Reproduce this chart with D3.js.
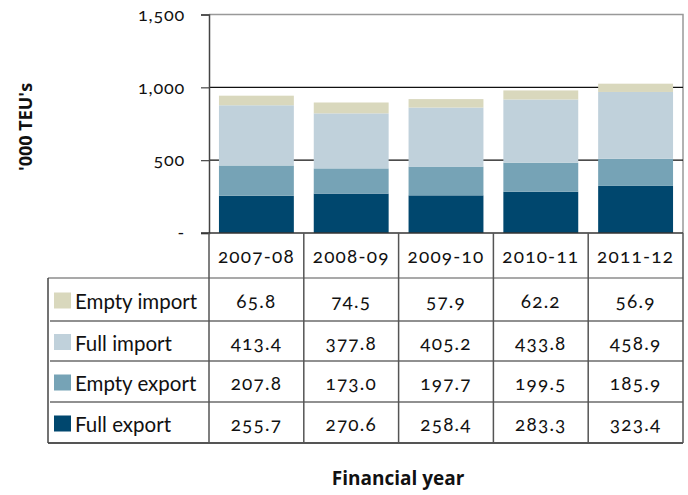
<!DOCTYPE html>
<html>
<head>
<meta charset="utf-8">
<script src="https://cdn.jsdelivr.net/npm/d3@7"></script>
<style>
  body { margin: 0; background: #fff; }
  .num { font-feature-settings: "onum" 1; font-variant-numeric: oldstyle-nums; }
</style>
</head>
<body>
<div id="chart"></div>
<script>
// datos
const years = ["2007-08", "2008-09", "2009-10", "2010-11", "2011-12"];
const series = ["Full export", "Empty export", "Full import", "Empty import"];
const fullExport = [255.7, 270.6, 258.4, 283.3, 323.4];
const emptyExport = [207.8, 173.0, 197.7, 199.5, 185.9];
const fullImport = [413.4, 377.8, 405.2, 433.8, 458.9];
const emptyImport = [65.8, 74.5, 57.9, 62.2, 56.9];
const yTicks = [0, 500, 1000, 1500];
const colors = ["#00476e", "#76a3b6", "#c0d1db", "#d9d8bd"];

const width = 688, height = 495;
const plotLeft = 209, plotRight = 683, plotTop = 14.5, plotBottom = 233;

const svg = d3.select("#chart").append("svg")
  .attr("width", width)
  .attr("height", height)
  .attr("font-family", "Lato, 'Open Sans', sans-serif");

const x = d3.scaleBand().domain(years).range([plotLeft, plotRight]).paddingInner(0.21).paddingOuter(0.105);
const xCol = d3.scaleBand().domain(years).range([plotLeft, plotRight]);
const y = d3.scaleLinear().domain([0, 1500]).range([plotBottom, plotTop]);

const rows = years.map((yr, i) => ({
  year: yr,
  "Full export": fullExport[i],
  "Empty export": emptyExport[i],
  "Full import": fullImport[i],
  "Empty import": emptyImport[i]
}));
const stacked = d3.stack().keys(series)(rows);

// marco gris
svg.append("path")
  .attr("d", `M${plotLeft},${plotTop}H${plotRight}V${plotBottom}`)
  .attr("fill", "none").attr("stroke", "#999").attr("stroke-width", 1.5);

// grid
svg.selectAll(".grid").data([500, 1000]).join("line")
  .attr("x1", plotLeft).attr("x2", plotRight)
  .attr("y1", d => y(d)).attr("y2", d => y(d))
  .attr("stroke", "#111").attr("stroke-width", 1.2);

// barras
svg.append("g").selectAll("g").data(stacked).join("g")
  .attr("fill", (d, i) => colors[i])
  .selectAll("rect").data(d => d).join("rect")
  .attr("x", d => x(d.data.year))
  .attr("width", x.bandwidth())
  .attr("y", d => y(d[1]))
  .attr("height", d => y(d[0]) - y(d[1]));

// eje y
const yAxis = svg.append("g")
  .attr("transform", `translate(${plotLeft},0)`)
  .call(d3.axisLeft(y).tickValues(yTicks).tickSize(8).tickPadding(16)
    .tickFormat(d => d === 0 ? "-" : d3.format(",")(d)));
yAxis.attr("font-family", null);
yAxis.select(".domain").attr("stroke", "#444").attr("stroke-width", 1.5);
yAxis.selectAll(".tick line").attr("stroke", "#444").attr("stroke-width", 1.2);
yAxis.selectAll(".tick text").attr("class", "num").attr("font-size", 18).attr("fill", "#111")
  .style("letter-spacing", "0.8px");

// eje x base
svg.append("line").attr("x1", plotLeft - 8).attr("x2", plotRight)
  .attr("y1", plotBottom).attr("y2", plotBottom).attr("stroke", "#333").attr("stroke-width", 1.5);

// tabla
const tableLeft = 48;
const rowEdges = [233, 278, 321, 361, 402, 443];
const tableRows = [
  { name: "Empty import", vals: emptyImport, color: colors[3] },
  { name: "Full import", vals: fullImport, color: colors[2] },
  { name: "Empty export", vals: emptyExport, color: colors[1] },
  { name: "Full export", vals: fullExport, color: colors[0] }
];
const tbl = svg.append("g");

// lineas horizontales
tbl.selectAll(".h").data(rowEdges.slice(1)).join("line")
  .attr("x1", (d, i) => i === 0 || i === rowEdges.length - 2 ? tableLeft : tableLeft + 2)
  .attr("x2", plotRight)
  .attr("y1", d => d).attr("y2", d => d)
  .attr("stroke", (d, i) => i === 0 || i === rowEdges.length - 2 ? "#555" : "#222")
  .attr("stroke-width", (d, i) => i === rowEdges.length - 2 ? 1.8 : 1.2);

// lineas verticales
const vx = years.map(yr => xCol(yr)).concat([plotRight]);
tbl.selectAll(".v").data(vx).join("line")
  .attr("x1", d => d).attr("x2", d => d)
  .attr("y1", plotBottom).attr("y2", rowEdges[5])
  .attr("stroke", "#555").attr("stroke-width", 1.5);
tbl.append("line").attr("x1", tableLeft).attr("x2", tableLeft)
  .attr("y1", rowEdges[1]).attr("y2", rowEdges[5])
  .attr("stroke", "#444").attr("stroke-width", 1.5);

// cabecera
tbl.selectAll(".yr").data(years).join("text")
  .attr("class", "num")
  .attr("x", d => xCol(d) + xCol.bandwidth() / 2)
  .attr("y", (rowEdges[0] + rowEdges[1]) / 2 + 7.5)
  .attr("text-anchor", "middle")
  .attr("font-size", 19).attr("fill", "#111")
  .style("letter-spacing", "1.2px")
  .text(d => d);

tableRows.forEach((r, ri) => {
  const cy = (rowEdges[ri + 1] + rowEdges[ri + 2]) / 2;
  tbl.append("rect").attr("x", 54).attr("y", cy - 7).attr("width", 17).attr("height", 16)
    .attr("fill", r.color);
  tbl.append("text").attr("x", 75).attr("y", cy + 9.5)
    .attr("font-size", 20.5).attr("fill", "#111")
    .text(r.name);
  tbl.selectAll(null).data(r.vals).join("text")
    .attr("class", "num")
    .attr("x", (d, i) => xCol(years[i]) + xCol.bandwidth() / 2)
    .attr("y", cy + 8.5)
    .attr("text-anchor", "middle")
    .attr("font-size", 19).attr("fill", "#111")
    .style("letter-spacing", "1.2px")
    .text(d => d.toFixed(1));
});

// titulos
svg.append("text")
  .attr("x", 398).attr("y", 485)
  .attr("text-anchor", "middle")
  .attr("font-family", "'Open Sans', sans-serif")
  .attr("font-size", 19).attr("font-weight", "bold").attr("fill", "#111")
  .text("Financial year");

svg.append("text")
  .attr("transform", "translate(32,127) rotate(-90)")
  .attr("text-anchor", "middle")
  .attr("font-family", "'Open Sans', sans-serif")
  .attr("font-size", 18).attr("font-weight", "bold").attr("fill", "#111")
  .text("'000 TEU's");
</script>
</body>
</html>
